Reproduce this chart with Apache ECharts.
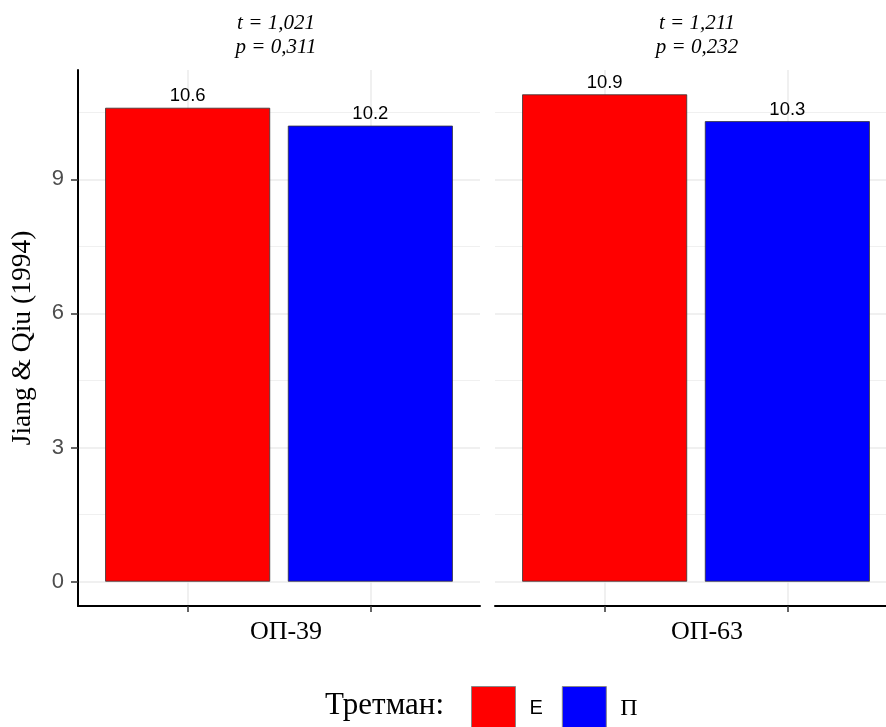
<!DOCTYPE html>
<html>
<head>
<meta charset="utf-8">
<script src="https://cdn.jsdelivr.net/npm/echarts@6/dist/echarts.min.js"></script>
<style>html,body{margin:0;padding:0;background:#fff;overflow:hidden;width:886px;height:727px}#c{width:900px;height:727px}</style>
</head>
<body>
<div id="c"></div>
<script>
const panels = ['ОП-39', 'ОП-63'];
const groups = ['Е', 'П'];
const valuesE = [10.6, 10.9];
const valuesP = [10.2, 10.3];
const tStats = ['1,021', '1,211'];
const pStats = ['0,311', '0,232'];
const yTicks = [0, 3, 6, 9];
const yMinor = [1.5, 4.5, 7.5, 10.5];
const groupPos = [1, 2];
const colors = ['#FF0000', '#0000FF'];

const SANS = 'Liberation Sans, Arial, sans-serif';
const SERIF = 'Liberation Serif, Times New Roman, serif';
const Y_MIN = -0.545, Y_MAX = 11.445;

const chart = echarts.init(document.getElementById('c'), null, {renderer: 'canvas'});

const grids = [
  {left: 78, top: 70, width: 402, height: 536},
  {left: 495, top: 70, width: 402, height: 536}
];

const xAxes = panels.map((p, i) => ({
  type: 'value', gridIndex: i, min: 0.4, max: 2.6,
  axisLine: {show: true, onZero: false, lineStyle: {color: '#000', width: 2}},
  axisTick: {show: true, customValues: groupPos, length: 6, lineStyle: {color: '#333', width: 1.5}},
  axisLabel: {show: false, customValues: groupPos},
  splitLine: {show: true, lineStyle: {color: '#EBEBEB', width: 1.5}}
}));

const yAxes = [];
panels.forEach((p, i) => {
  yAxes.push({
    type: 'value', gridIndex: i, min: Y_MIN, max: Y_MAX,
    name: i === 0 ? 'Jiang & Qiu (1994)' : '',
    nameLocation: 'middle', nameGap: 41,
    nameTextStyle: {fontFamily: SERIF, fontSize: 27.5, color: '#000'},
    axisLine: {show: i === 0, onZero: false, lineStyle: {color: '#000', width: 2}},
    axisTick: {show: i === 0, customValues: yTicks, length: 7, lineStyle: {color: '#333', width: 1.5}},
    axisLabel: {show: i === 0, customValues: yTicks, margin: 14, fontFamily: SANS, fontSize: 22, color: '#4D4D4D'},
    splitLine: {show: true, lineStyle: {color: '#EBEBEB', width: 1.5}}
  });
});
panels.forEach((p, i) => {
  yAxes.push({
    type: 'value', gridIndex: i, min: Y_MIN, max: Y_MAX,
    axisLine: {show: false}, axisLabel: {show: false, customValues: yMinor},
    axisTick: {show: false, customValues: yMinor},
    splitLine: {show: true, lineStyle: {color: '#F0F0F0', width: 1}}
  });
});

const series = [];
panels.forEach((p, i) => {
  [valuesE, valuesP].forEach((vals, g) => {
    series.push({
      type: 'bar', name: groups[g], xAxisIndex: i, yAxisIndex: i,
      data: [[groupPos[g], vals[i]]],
      barWidth: 165, barGap: '-100%',
      itemStyle: {color: colors[g], borderColor: '#333', borderWidth: 0.8},
      label: {show: true, position: 'top', distance: 2, fontFamily: SANS, fontSize: 18.5, color: '#000',
        formatter: (d) => d.value[1].toFixed(1)},
      z: 3
    });
  });
});

const graphics = [];
panels.forEach((p, i) => {
  const cx = i === 0 ? 276 : 697;
  graphics.push({type: 'text', x: cx, y: 35, style: {
    text: 't = ' + tStats[i] + '\np = ' + pStats[i],
    font: 'italic 21px ' + SERIF, lineHeight: 24, fill: '#000',
    align: 'center', verticalAlign: 'middle', textAlign: 'center', textVerticalAlign: 'middle'}});
  graphics.push({type: 'text', x: i === 0 ? 286 : 707, y: 632, style: {
    text: p, font: '26px ' + SERIF, fill: '#000',
    align: 'center', verticalAlign: 'middle', textAlign: 'center', textVerticalAlign: 'middle'}});
});
graphics.push({type: 'text', x: 444, y: 706, style: {
  text: 'Третман:', font: '31px ' + SERIF, fill: '#000',
  align: 'right', verticalAlign: 'middle', textAlign: 'right', textVerticalAlign: 'middle'}});

chart.setOption({
  animation: false,
  backgroundColor: '#fff',
  grid: grids,
  xAxis: xAxes,
  yAxis: yAxes,
  series: series,
  legend: {
    left: 471, top: 686, padding: 0, itemWidth: 44, itemHeight: 44, itemGap: 19,
    selectedMode: false,
    data: [
      {name: 'Е', icon: 'rect', textStyle: {fontFamily: SANS, fontSize: 20, color: '#000', padding: [0, 0, 0, 9]},
       itemStyle: {borderColor: '#888', borderWidth: 1}},
      {name: 'П', icon: 'rect', textStyle: {fontFamily: SERIF, fontSize: 24, color: '#000', padding: [0, 0, 0, 9]},
       itemStyle: {borderColor: '#888', borderWidth: 1}}
    ]
  },
  graphic: graphics
});
</script>
</body>
</html>
